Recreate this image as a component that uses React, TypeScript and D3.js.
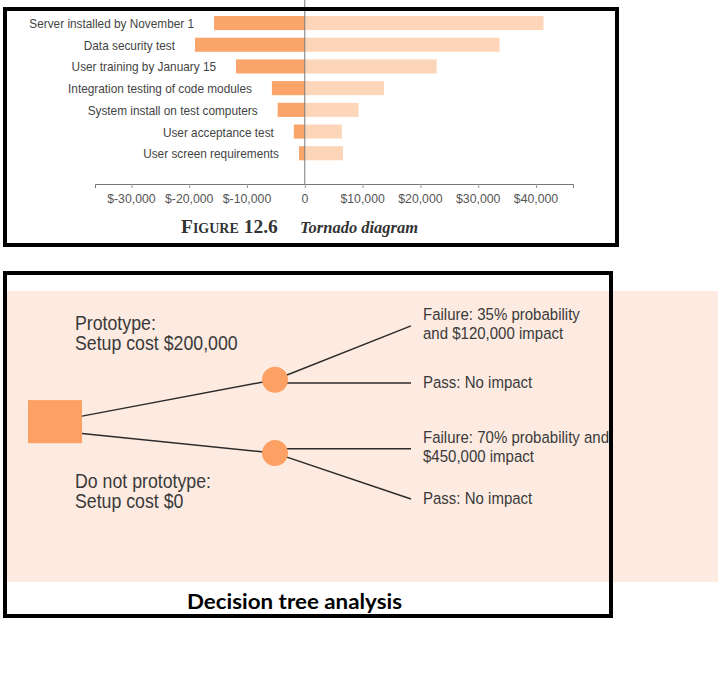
import React, { useRef, useEffect } from "react";
import * as d3 from "d3";

// tornado diagram data
const tasks = [
  "Server installed by November 1",
  "Data security test",
  "User training by January 15",
  "Integration testing of code modules",
  "System install on test computers",
  "User acceptance test",
  "User screen requirements",
];
const lowValues = [-15700, -19000, -11900, -5700, -4700, -1900, -1000];
const highValues = [41300, 33700, 22800, 13700, 9300, 6400, 6600];
const tickValues = [-30000, -20000, -10000, 0, 10000, 20000, 30000, 40000];

// decision tree (positions in abstract lane units 0..100)
const decisions = [
  { label: ["Prototype:", "Setup cost $200,000"], port: 43, lane: 30.5 },
  { label: ["Do not prototype:", "Setup cost $0"], port: 49, lane: 55.7 },
];
const outcomes = [
  { parent: 0, lane: 12, label: ["Failure: 35% probability", "and $120,000 impact"] },
  { parent: 0, lane: 31.6, label: ["Pass: No impact"] },
  { parent: 1, lane: 54.2, label: ["Failure: 70% probability and", "$450,000 impact"] },
  { parent: 1, lane: 71.5, label: ["Pass: No impact"] },
];

const W = 718;
const H = 678;
const sans = "'Liberation Sans', Arial, sans-serif";
const squeeze = 0.91; // fake a condensed face

type Sel = d3.Selection<SVGGElement, unknown, null, undefined>;

// multi-line condensed text block, first baseline at (x, y)
const narrowText = (
  parent: Sel,
  x: number,
  y: number,
  lines: string[],
  size: number,
  lineGap: number,
  anchor = "start",
  fill = "#3a3a3a"
) => {
  const t = parent
    .append("g")
    .attr("transform", `translate(${x},${y}) scale(${squeeze},1)`)
    .append("text")
    .attr("font-family", sans)
    .attr("font-size", `${size}px`)
    .attr("text-anchor", anchor)
    .attr("fill", fill);
  lines.forEach((line, j) => {
    t.append("tspan").attr("x", 0).attr("y", j * lineGap).text(line);
  });
};

const App = () => {
  const ref = useRef<SVGSVGElement>(null);

  useEffect(() => {
    if (!ref.current) return;
    const svg = d3.select(ref.current);
    svg.selectAll("*").remove();

    // ---------- Tornado diagram ----------
    const x = d3.scaleLinear().domain([-36300, 46400]).range([95, 573]);
    const y = d3
      .scaleBand()
      .domain(tasks)
      .range([12.2, 164.1])
      .paddingInner(0.35)
      .paddingOuter(0.175);

    const top = svg.append("g") as Sel;

    top
      .selectAll(".low")
      .data(tasks)
      .enter()
      .append("rect")
      .attr("x", (_, i) => x(lowValues[i]))
      .attr("y", (d) => y(d) ?? 0)
      .attr("width", (_, i) => x(0) - x(lowValues[i]))
      .attr("height", y.bandwidth())
      .attr("fill", "#fba56b");

    top
      .selectAll(".high")
      .data(tasks)
      .enter()
      .append("rect")
      .attr("x", x(0))
      .attr("y", (d) => y(d) ?? 0)
      .attr("width", (_, i) => x(highValues[i]) - x(0))
      .attr("height", y.bandwidth())
      .attr("fill", "#fdd6b9");

    tasks.forEach((d, i) => {
      narrowText(
        top,
        x(lowValues[i]) - 20,
        (y(d) ?? 0) + y.bandwidth() / 2 + 5,
        [d],
        13,
        0,
        "end",
        "#444"
      );
    });

    // zero line
    top
      .append("line")
      .attr("x1", x(0))
      .attr("x2", x(0))
      .attr("y1", 0)
      .attr("y2", 184)
      .attr("stroke", "#777")
      .attr("stroke-width", 1);

    const fmt = d3.format(",");
    const axis = top
      .append("g")
      .attr("transform", "translate(0,184)")
      .call(
        d3
          .axisBottom(x)
          .tickValues(tickValues)
          .tickSizeOuter(0)
          .tickSize(4)
          .tickFormat(() => "")
      );
    axis.select(".domain").attr("stroke", "#777");
    axis.selectAll(".tick line").attr("stroke", "#999");
    tickValues.forEach((v) => {
      const label = v === 0 ? "0" : v < 0 ? `$-${fmt(-v)}` : `$${fmt(v)}`;
      narrowText(top, x(v), 203, [label], 13.5, 0, "middle", "#555");
    });

    const cap = top
      .append("text")
      .attr("y", 233)
      .attr("font-family", "'Liberation Serif', serif")
      .attr("fill", "#333");
    cap
      .append("tspan")
      .attr("x", 181)
      .attr("font-size", "19.5px")
      .attr("font-weight", "bold")
      .attr("font-variant", "small-caps")
      .text("Figure 12.6");
    cap
      .append("tspan")
      .attr("x", 300)
      .attr("font-size", "16.5px")
      .attr("font-weight", "bold")
      .attr("font-style", "italic")
      .text("Tornado diagram");

    top
      .append("rect")
      .attr("x", 5)
      .attr("y", 9)
      .attr("width", 612)
      .attr("height", 236)
      .attr("fill", "none")
      .attr("stroke", "#000")
      .attr("stroke-width", 4);

    // ---------- Decision tree ----------
    const bottom = svg.append("g") as Sel;
    bottom
      .append("rect")
      .attr("x", 6)
      .attr("y", 291)
      .attr("width", W - 6)
      .attr("height", 291)
      .attr("fill", "#fdebe1");

    const lane = d3.scaleLinear().domain([0, 100]).range([291, 582]);
    const depth = d3.scaleOrdinal<number, number>().domain([0, 1, 2]).range([82, 275, 411]);

    const link = d3
      .line<[number, number]>()
      .x((d) => d[0])
      .y((d) => d[1]);

    decisions.forEach((d) => {
      bottom
        .append("path")
        .attr("d", link([[depth(0), lane(d.port)], [depth(1), lane(d.lane)]]))
        .attr("stroke", "#2b2b2b")
        .attr("stroke-width", 1.5)
        .attr("fill", "none");
    });
    outcomes.forEach((o) => {
      const p = decisions[o.parent];
      const startY = Math.abs(o.lane - p.lane) < 2 ? lane(o.lane) : lane(p.lane);
      bottom
        .append("path")
        .attr("d", link([[depth(1), startY], [depth(2), lane(o.lane)]]))
        .attr("stroke", "#2b2b2b")
        .attr("stroke-width", 1.5)
        .attr("fill", "none");
    });

    // decision node
    bottom
      .append("rect")
      .attr("x", 28)
      .attr("y", lane(37.5))
      .attr("width", depth(0) - 28)
      .attr("height", lane(52.3) - lane(37.5))
      .attr("fill", "#fca063");

    bottom
      .selectAll(".chance")
      .data(decisions)
      .enter()
      .append("circle")
      .attr("cx", depth(1))
      .attr("cy", (d) => lane(d.lane))
      .attr("r", 13)
      .attr("fill", "#fca063");

    // left labels
    const leftBase = [330, 488];
    decisions.forEach((d, i) => {
      narrowText(bottom, 75, leftBase[i], d.label, 19.5, 20.5);
    });

    outcomes.forEach((o) => {
      const first = lane(o.lane) + (o.label.length > 1 ? -6 : 5);
      narrowText(bottom, 423, first, o.label, 16.5, 19.5);
    });

    bottom
      .append("text")
      .attr("x", 187)
      .attr("y", 609)
      .attr("font-family", "Lato, 'Open Sans', sans-serif")
      .attr("font-weight", "bold")
      .attr("font-size", "20px")
      .attr("textLength", 215)
      .attr("lengthAdjust", "spacingAndGlyphs")
      .attr("fill", "#000")
      .text("Decision tree analysis");

    bottom
      .append("rect")
      .attr("x", 5)
      .attr("y", 273)
      .attr("width", 606)
      .attr("height", 343)
      .attr("fill", "none")
      .attr("stroke", "#000")
      .attr("stroke-width", 4);
  }, []);

  return (
    <svg
      ref={ref}
      width={W}
      height={H}
      style={{ position: "absolute", left: 0, top: 0, background: "#fff" }}
    />
  );
};

export default App;
